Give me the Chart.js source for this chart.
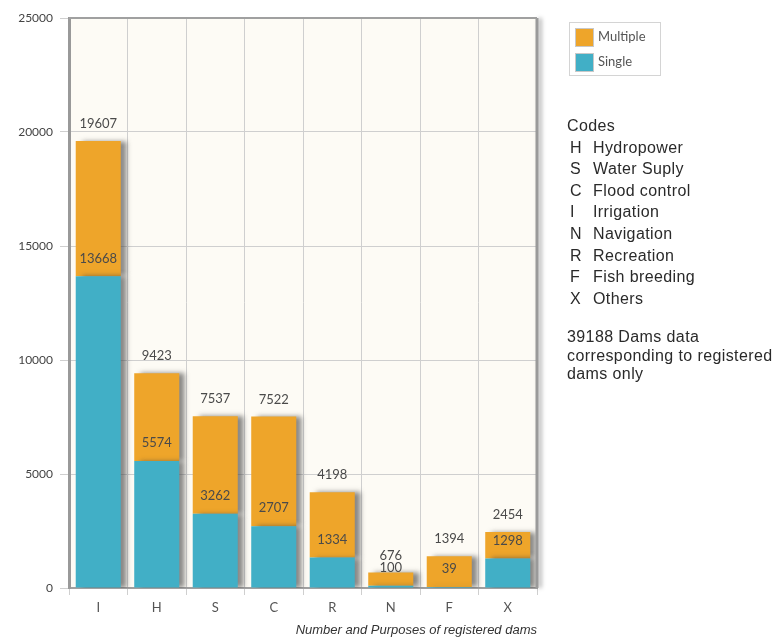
<!DOCTYPE html>
<html>
<head>
<meta charset="utf-8">
<style>
  body { margin: 0; background: #fff; }
  #wrap { position: relative; width: 776px; height: 638px; }
  #legend { position: absolute; left: 569px; top: 22px; width: 90px; height: 52px; border: 1px solid #d4d4d4;
            font: 13px Lato, sans-serif; color: #555; }
  #legend .item { position: absolute; left: 5px; height: 19px; line-height: 19px; }
  #legend .sw { display: inline-block; width: 17px; height: 17px; border: 1px solid #c8c8c8; vertical-align: middle; margin-right: 4px; }
  #codes { position: absolute; left: 567px; top: 115px; font: 16px "Liberation Sans", Arial, sans-serif; color: #2a2a2a; letter-spacing: 0.4px; }
  #codes .row { height: 21.6px; line-height: 21.6px; white-space: nowrap; }
  #codes .k { display: inline-block; width: 26px; padding-left: 3px; box-sizing: border-box; }
  #codes .note { margin-top: 19px; line-height: 18.5px; white-space: nowrap; }
</style>
</head>
<body>
<div id="wrap">
  <canvas id="myChart" width="776" height="638"></canvas>
  <div id="legend">
    <div class="item" style="top:4px"><span class="sw" style="background:#EEA52A"></span>Multiple</div>
    <div class="item" style="top:29px"><span class="sw" style="background:#41AFC6"></span>Single</div>
  </div>
  <div id="codes">
    <div class="row">Codes</div>
    <div class="row"><span class="k">H</span>Hydropower</div>
    <div class="row"><span class="k">S</span>Water Suply</div>
    <div class="row"><span class="k">C</span>Flood control</div>
    <div class="row"><span class="k">I</span>Irrigation</div>
    <div class="row"><span class="k">N</span>Navigation</div>
    <div class="row"><span class="k">R</span>Recreation</div>
    <div class="row"><span class="k">F</span>Fish breeding</div>
    <div class="row"><span class="k">X</span>Others</div>
    <div class="note">39188 Dams data<br>corresponding to registered<br>dams only</div>
  </div>
</div>

<script src="https://cdn.jsdelivr.net/npm/chart.js"></script>
<script>
  // purposes of registered dams
  const categories = ['I', 'H', 'S', 'C', 'R', 'N', 'F', 'X'];
  const totalDams  = [19607, 9423, 7537, 7522, 4198, 676, 1394, 2454];
  const singleDams = [13668, 5574, 3262, 2707, 1334, 100, 39, 1298];
  const multipleDams = totalDams.map((t, i) => t - singleDams[i]);
  const yMax = 25000;
  const yStep = 5000;

  const ORANGE = '#EEA52A';
  const TEAL = '#41AFC6';

  // cream plot background + gray frame
  const frame = {
    id: 'frame',
    beforeDraw(chart) {
      const a = chart.chartArea, c = chart.ctx;
      c.save();
      c.fillStyle = '#FDFBF5';
      c.fillRect(a.left, a.top, a.right - a.left, a.bottom - a.top);
      c.restore();
    },
    afterDraw(chart) {
      const a = chart.chartArea, c = chart.ctx;
      c.save();
      c.shadowColor = 'rgba(0,0,0,0.35)';
      c.shadowBlur = 4;
      c.shadowOffsetX = 3;
      c.strokeStyle = '#9a9a9a';
      c.lineWidth = 3;
      c.beginPath();
      c.moveTo(a.right, a.top);
      c.lineTo(a.right, a.bottom);
      c.stroke();
      c.restore();
      c.save();
      c.strokeStyle = '#a0a0a0';
      c.lineWidth = 2;
      c.beginPath();
      c.moveTo(a.left, a.top);
      c.lineTo(a.right, a.top);
      c.stroke();
      c.restore();
    }
  };

  // drop shadow on the right side of the bars
  const barShadow = {
    id: 'barShadow',
    beforeDatasetsDraw(chart) {
      const c = chart.ctx;
      c.save();
      c.shadowColor = 'rgba(60,60,60,0.6)';
      c.shadowBlur = 5;
      c.shadowOffsetX = 6;
      c.shadowOffsetY = 0;
    },
    afterDatasetsDraw(chart) {
      chart.ctx.restore();
    }
  };

  // value labels: total above the stack, single above its segment
  const valueLabels = {
    id: 'valueLabels',
    afterDatasetsDraw(chart) {
      const c = chart.ctx;
      const single = chart.getDatasetMeta(0).data;
      const multi = chart.getDatasetMeta(1).data;
      c.save();
      c.font = '13px Lato, sans-serif';
      c.fillStyle = '#4a4a4a';
      c.textAlign = 'center';
      c.textBaseline = 'middle';
      categories.forEach((cat, i) => {
        c.fillText(String(totalDams[i]), multi[i].x, multi[i].y - 17);
        c.fillText(String(singleDams[i]), single[i].x, single[i].y - 18);
      });
      c.restore();
    }
  };

  const ctx = document.getElementById('myChart');
  const myChart = new Chart(ctx, {
    type: 'bar',
    data: {
      labels: categories,
      datasets: [
        { label: 'Single', data: singleDams, backgroundColor: TEAL, categoryPercentage: 0.77, barPercentage: 1 },
        { label: 'Multiple', data: multipleDams, backgroundColor: ORANGE, categoryPercentage: 0.77, barPercentage: 1 }
      ]
    },
    options: {
      responsive: false,
      animation: false,
      layout: { padding: { top: 18, right: 239, left: 0, bottom: 0 } },
      plugins: { legend: { display: false }, tooltip: { enabled: false } },
      scales: {
        x: {
          stacked: true,
          afterFit(scale) { scale.height = 50; },
          grid: { color: '#cfcfcf', tickLength: 7, offset: true },
          border: { color: '#a0a0a0', width: 2 },
          ticks: { font: { family: 'Lato', size: 13 }, color: '#555', padding: 5 },
          title: {
            display: true, align: 'end',
            text: 'Number and Purposes of registered dams',
            font: { family: 'Liberation Sans', size: 13, style: 'italic' },
            color: '#333', padding: { top: 3, bottom: 0 }
          }
        },
        y: {
          stacked: true,
          min: 0, max: yMax,
          afterFit(scale) { scale.width = 69; },
          grid: { color: '#cfcfcf', tickLength: 9 },
          border: { color: '#999', width: 3 },
          ticks: {
            stepSize: yStep,
            callback: (v) => String(v),
            font: { family: 'Lato', size: 12 }, color: '#444', padding: 7
          }
        }
      }
    },
    plugins: [frame, barShadow, valueLabels]
  });
</script>
</body>
</html>
